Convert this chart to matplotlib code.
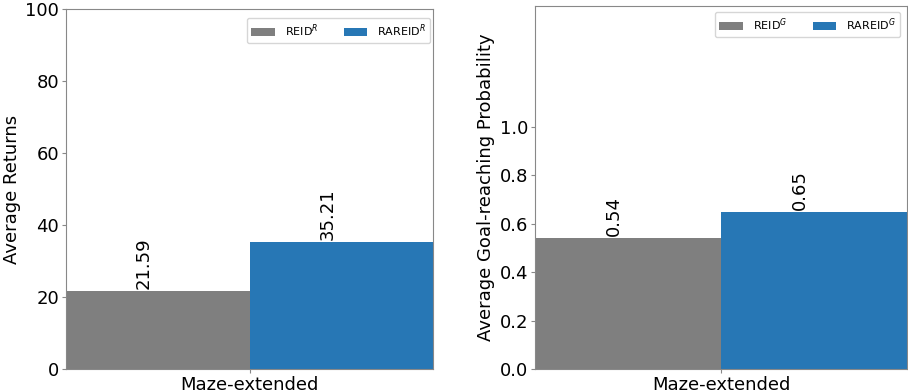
import matplotlib
matplotlib.use("Agg")
import matplotlib.pyplot as plt

category = "Maze-extended"
methods_left = ["REID$^R$", "RAREID$^R$"]
returns = [21.59, 35.21]
methods_right = ["REID$^G$", "RAREID$^G$"]
goal_prob = [0.54, 0.65]
colors = ["#7f7f7f", "#2777b5"]

fig = plt.figure(figsize=(9.08, 3.92), dpi=100)
ax1 = fig.add_axes([66/908, 1-369/392, (433-66)/908, (369-9)/392])
ax2 = fig.add_axes([535/908, 1-369/392, (907-535)/908, (369-6)/392])

FS = 13
w = 1.0
def draw(ax, vals, labels, ylim, yticks, ylabel, fmt, anchor):
    for i, (v, lab, c) in enumerate(zip(vals, labels, colors)):
        x = (i - 0.5) * w
        ax.bar(x, v, width=w, color=c, label=lab)
        ax.annotate(fmt.format(v), (x, v), xytext=(-10, 1.5), textcoords="offset points",
                    rotation=90, ha="center", va="bottom", fontsize=FS)
    ax.set_xlim(-w, w)
    ax.set_ylim(*ylim)
    ax.set_yticks(yticks)
    ax.set_xticks([0])
    ax.set_xticklabels([category], fontsize=FS)
    ax.tick_params(axis="both", labelsize=FS, color="#888888", length=3, pad=2)
    ax.set_ylabel(ylabel, fontsize=FS, labelpad=3)
    for s in ax.spines.values():
        s.set_color("#888888")
    ax.legend(loc="upper right", bbox_to_anchor=anchor, ncol=2, fontsize=8,
              handlelength=2.1, handletextpad=0.9, columnspacing=2.3, borderaxespad=0)

draw(ax1, returns, methods_left, (0, 100), [0, 20, 40, 60, 80, 100], "Average Returns",
     "{:.2f}", (1 - 3/367, 1 - 9/360))
draw(ax2, goal_prob, methods_right, (0, 1.5), [0.0, 0.2, 0.4, 0.6, 0.8, 1.0],
     "Average Goal-reaching Probability", "{:.2f}", (1 - 7/372, 1 - 6/363))
ax2.set_yticklabels(["0.0", "0.2", "0.4", "0.6", "0.8", "1.0"])

fig.savefig("out.png", dpi=100)
